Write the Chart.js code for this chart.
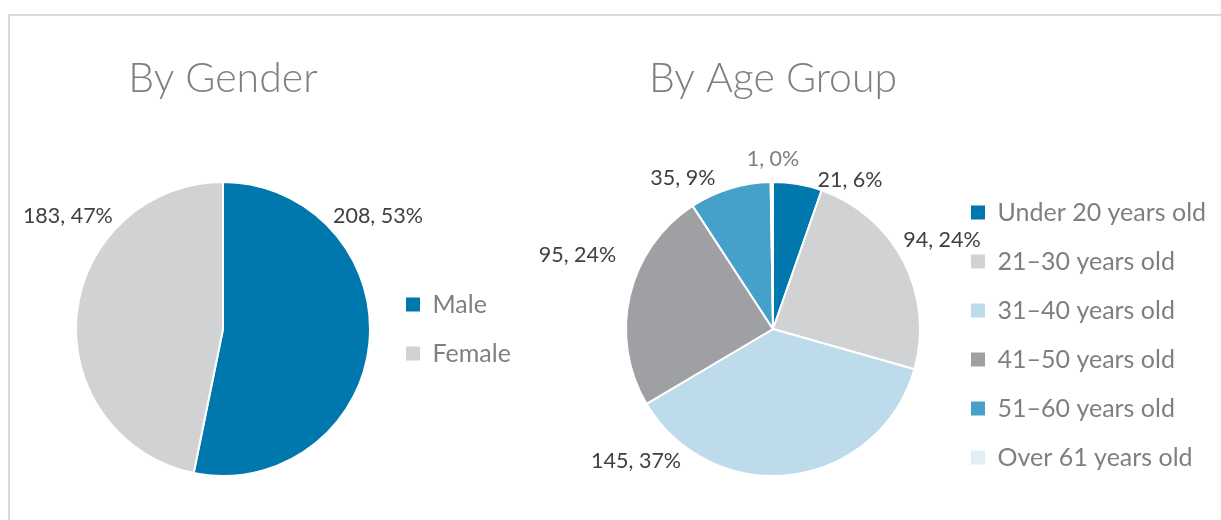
<!DOCTYPE html>
<html lang="en">
<head>
<meta charset="UTF-8">
<title>By Gender / By Age Group</title>
<script src="https://cdn.jsdelivr.net/npm/chart.js"></script>
<style>
    html, body { margin: 0; padding: 0; background: #fff; }
    #page { position: relative; width: 1221px; height: 520px; overflow: hidden; }
    #frame {
        position: absolute; left: 8px; top: 14px; right: -10px; bottom: -10px;
        border-top: 2px solid #dadada; border-left: 2px solid #dadada;
    }
    canvas { position: absolute; top: 0; }
    #genderChart { left: 0; }
    #ageChart { left: 500px; }
</style>
</head>
<body>
<div id="page">
    <div id="frame"></div>
    <canvas id="genderChart" width="520" height="520"></canvas>
    <canvas id="ageChart" width="721" height="520"></canvas>
</div>

<script>
// gender split
var genderLabels = ['Male', 'Female'];
var genderCounts = [208, 183];
var genderColors = ['#0077ad', '#d1d2d4'];

// age groups
var ageLabels = ['Under 20 years old', '21\u201330 years old', '31\u201340 years old',
                 '41\u201350 years old', '51\u201360 years old', 'Over 61 years old'];
var ageCounts = [21, 94, 145, 95, 35, 1];
var ageColors = ['#0077ad', '#d1d2d4', '#bedbeb', '#9fa0a4', '#45a1ca', '#e0eef6'];

var FONT = "Lato, 'Open Sans', sans-serif";
var LEGEND_SIZE = 25, LEGEND_BOX = 14, LEGEND_PAD = 24;

// whole percents that still add up to 100 (largest remainder), like excel shows them
function roundedPercents(values) {
    var total = values.reduce(function (a, b) { return a + b; }, 0);
    var raw = values.map(function (v) { return v / total * 100; });
    var out = raw.map(Math.floor);
    var left = 100 - out.reduce(function (a, b) { return a + b; }, 0);
    var order = raw.map(function (r, i) { return i; })
        .sort(function (a, b) { return (raw[b] - out[b]) - (raw[a] - out[a]); });
    for (var k = 0; k < left; k++) out[order[k]]++;
    return out;
}

// labels sit outside the pie like the excel ones: [angle in degrees, distance from centre]
var outsideLabels = {
    id: 'outsideLabels',
    afterDatasetsDraw: function (chart, args, opts) {
        var ctx = chart.ctx;
        var arc = chart.getDatasetMeta(0).data[0];
        var cx = arc.x, cy = arc.y;
        var data = chart.data.datasets[0].data;
        var pcts = roundedPercents(data);

        ctx.save();
        ctx.textAlign = 'center';
        ctx.textBaseline = 'middle';
        ctx.font = '21.5px ' + FONT;
        data.forEach(function (v, i) {
            var p = opts.place[i];
            var a = p[0] * Math.PI / 180;
            ctx.fillStyle = pcts[i] === 0 ? '#7f7f7f' : '#404040';
            ctx.fillText(v + ', ' + pcts[i] + '%', cx + Math.cos(a) * p[1], cy + Math.sin(a) * p[1]);
        });

        // title centred over the pie
        ctx.textBaseline = 'alphabetic';
        ctx.font = '300 41px ' + FONT;
        ctx.fillStyle = '#7f7f7f';
        ctx.fillText(opts.title, cx, 92);
        ctx.restore();
    }
};

function legendItems(chart) {
    var items = Chart.overrides.pie.plugins.legend.labels.generateLabels(chart);
    items.forEach(function (it) { it.lineWidth = 0; });
    return items;
}

// area = {left, width, top, bottom}: where the pie box goes, legend follows right after it
function makePie(id, labels, counts, colors, title, place, area, align) {
    var canvas = document.getElementById(id);
    var ctx = canvas.getContext('2d');
    ctx.font = LEGEND_SIZE + 'px ' + FONT;
    var textW = Math.max.apply(null, labels.map(function (l) { return ctx.measureText(l).width; }));
    var legendW = LEGEND_PAD + LEGEND_BOX + LEGEND_SIZE / 2 + textW + 10;
    var padRight = canvas.width - area.left - area.width - legendW;

    return new Chart(ctx, {
        type: 'pie',
        data: {
            labels: labels,
            datasets: [{
                data: counts,
                backgroundColor: colors,
                borderColor: '#ffffff',
                borderWidth: 2,
                radius: 147
            }]
        },
        options: {
            responsive: false,
            animation: false,
            layout: { padding: { left: area.left, right: padRight, top: area.top, bottom: area.bottom } },
            plugins: {
                legend: {
                    position: 'right',
                    align: align,
                    labels: {
                        boxWidth: LEGEND_BOX,
                        boxHeight: LEGEND_BOX,
                        padding: LEGEND_PAD,
                        color: '#7f7f7f',
                        font: { family: FONT, size: LEGEND_SIZE },
                        generateLabels: legendItems
                    }
                },
                tooltip: { enabled: false },
                outsideLabels: { title: title, place: place }
            }
        },
        plugins: [outsideLabels]
    });
}

var genderChart = makePie('genderChart', genderLabels, genderCounts, genderColors, 'By Gender',
    [[-36.2, 192], [-143.9, 192]],
    { left: 64, width: 318, top: 182, bottom: 44 }, 'center');

var ageChart = makePie('ageChart', ageLabels, ageCounts, ageColors, 'By Age Group',
    [[-62.7, 168], [-27.8, 191], [136.1, 190], [-159.3, 209], [-120.8, 176], [-90, 170]],
    { left: 99, width: 348, top: 164, bottom: 26 }, 'end');
</script>
</body>
</html>
